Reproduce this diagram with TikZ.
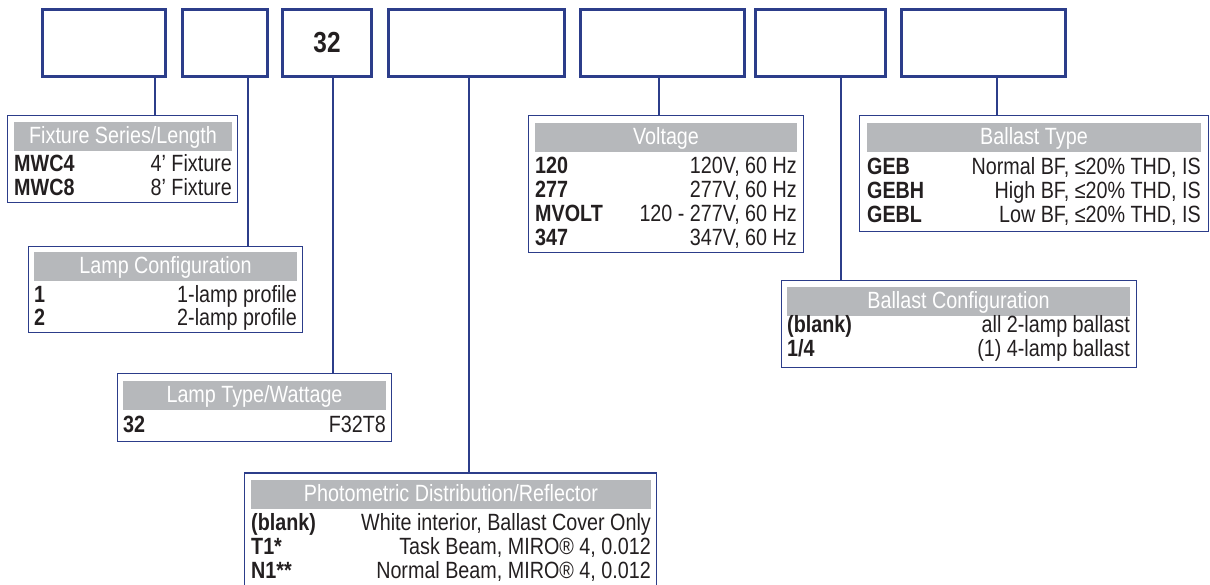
\documentclass[tikz,border=0pt]{standalone}
\usepackage{fontspec}
\setmainfont[FakeStretch=0.84]{Liberation Sans}
\definecolor{navy}{RGB}{44,61,138}
\definecolor{hdrgray}{RGB}{182,184,187}
\definecolor{txt}{RGB}{35,31,32}
\begin{document}
\begin{tikzpicture}[x=1pt,y=-1pt,
  topbox/.style={draw=navy, line width=3pt, inner sep=0pt, minimum height=67pt},
  legbox/.style={draw=navy, line width=1.3pt, inner sep=0pt},
  hdr/.style={fill=hdrgray, text=white, inner sep=0pt, text height=21.5pt, text depth=7.5pt, font=\fontsize{23.5}{24}\selectfont},
  key/.style={anchor=base west, inner sep=0pt, text=txt, font=\fontsize{23.5}{24}\selectfont\bfseries},
  val/.style={anchor=base east, inner sep=0pt, text=txt, font=\fontsize{23.5}{24}\selectfont},
  link/.style={draw=navy, line width=1.5pt}]
\useasboundingbox (0,0) rectangle (1210,584);

% top code boxes
\node[topbox, minimum width=123pt] (b1) at (104,43) {};
\node[topbox, minimum width=85pt]  (b2) at (225,43) {};
\node[topbox, minimum width=89pt, text=txt, font=\fontsize{29}{30}\selectfont\bfseries] (b3) at (327,43) {32};
\node[topbox, minimum width=176pt] (b4) at (476.5,43) {};
\node[topbox, minimum width=164pt] (b5) at (662.5,43) {};
\node[topbox, minimum width=130pt] (b6) at (820.5,43) {};
\node[topbox, minimum width=164pt] (b7) at (983.5,43) {};

% legend boxes
\node[legbox, minimum width=230pt, minimum height=87pt]  (fix)  at (122.5,159) {};
\node[legbox, minimum width=274pt, minimum height=86pt]  (lcfg) at (165.5,289.5) {};
\node[legbox, minimum width=274pt, minimum height=68pt]  (ltyp) at (254.5,407.5) {};
\node[legbox, minimum width=412pt, minimum height=127pt] (phot) at (450.5,536.5) {};
\node[legbox, minimum width=275pt, minimum height=137pt] (volt) at (666,184) {};
\node[legbox, minimum width=349pt, minimum height=116pt] (btyp) at (1034,173.5) {};
\node[legbox, minimum width=355pt, minimum height=87pt]  (bcfg) at (959,324) {};

% headers
\node[hdr, minimum width=218pt] (fixh)  at (123,136.5)   {Fixture Series/Length};
\node[hdr, minimum width=263pt] (lcfgh) at (165.5,266.5) {Lamp Configuration};
\node[hdr, minimum width=263pt] (ltyph) at (254.5,395)   {Lamp Type/Wattage};
\node[hdr, minimum width=400pt] (photh) at (451,494.5)   {Photometric Distribution/Reflector};
\node[hdr, minimum width=262pt] (volth) at (666,137.5)   {Voltage};
\node[hdr, minimum width=334pt] (btyph) at (1034,137.5)  {Ballast Type};
\node[hdr, minimum width=343pt] (bcfgh) at (958.5,301.5) {Ballast Configuration};

% rows: fixture
\node[key] (fixk1) at (14,171.5) {MWC4};  \node[val] (fixv1) at (232,171.5) {4’ Fixture};
\node[key] (fixk2) at (14,195)   {MWC8};  \node[val] (fixv2) at (232,195)   {8’ Fixture};
% lamp configuration
\node[key] (lck1) at (34,302) {1}; \node[val] (lcv1) at (297,302) {1-lamp profile};
\node[key] (lck2) at (34,325) {2}; \node[val] (lcv2) at (297,325) {2-lamp profile};
% lamp type
\node[key] (ltk1) at (123,432) {32}; \node[val] (ltv1) at (386,432) {F32T8};
% photometric
\node[key] (phk1) at (251,530) {(blank)}; \node[val] (phv1) at (651,530) {White interior, Ballast Cover Only};
\node[key] (phk2) at (251,554) {T1*};     \node[val] (phv2) at (651,554) {Task Beam, MIRO® 4, 0.012};
\node[key] (phk3) at (251,578) {N1**};    \node[val] (phv3) at (651,578) {Normal Beam, MIRO® 4, 0.012};
% voltage
\node[key] (vok1) at (535,173) {120};   \node[val] (vov1) at (797,173) {120V, 60 Hz};
\node[key] (vok2) at (535,197) {277};   \node[val] (vov2) at (797,197) {277V, 60 Hz};
\node[key] (vok3) at (535,221) {MVOLT}; \node[val] (vov3) at (797,221) {120 - 277V, 60 Hz};
\node[key] (vok4) at (535,245) {347};   \node[val] (vov4) at (797,245) {347V, 60 Hz};
% ballast type
\node[key] (btk1) at (867,174) {GEB};  \node[val] (btv1) at (1201,174) {Normal BF, ≤20\% THD, IS};
\node[key] (btk2) at (867,198) {GEBH}; \node[val] (btv2) at (1201,198) {High BF, ≤20\% THD, IS};
\node[key] (btk3) at (867,222) {GEBL}; \node[val] (btv3) at (1201,222) {Low BF, ≤20\% THD, IS};
% ballast configuration
\node[key] (bck1) at (787,332) {(blank)}; \node[val] (bcv1) at (1130,332) {all 2-lamp ballast};
\node[key] (bck2) at (787,356) {1/4};     \node[val] (bcv2) at (1130,356) {(1) 4-lamp ballast};

% connectors
\coordinate (k1) at (155,0);
\coordinate (k2) at (248,0);
\coordinate (k3) at (333,0);
\coordinate (k4) at (469,0);
\coordinate (k5) at (659,0);
\coordinate (k6) at (841,0);
\coordinate (k7) at (997,0);
\draw[link] (k1 |- b1.south) -- (k1 |- fix.north);
\draw[link] (k2 |- b2.south) -- (k2 |- lcfg.north);
\draw[link] (k3 |- b3.south) -- (k3 |- ltyp.north);
\draw[link] (k4 |- b4.south) -- (k4 |- phot.north);
\draw[link] (k5 |- b5.south) -- (k5 |- volt.north);
\draw[link] (k6 |- b6.south) -- (k6 |- bcfg.north);
\draw[link] (k7 |- b7.south) -- (k7 |- btyp.north);
\end{tikzpicture}
\end{document}
